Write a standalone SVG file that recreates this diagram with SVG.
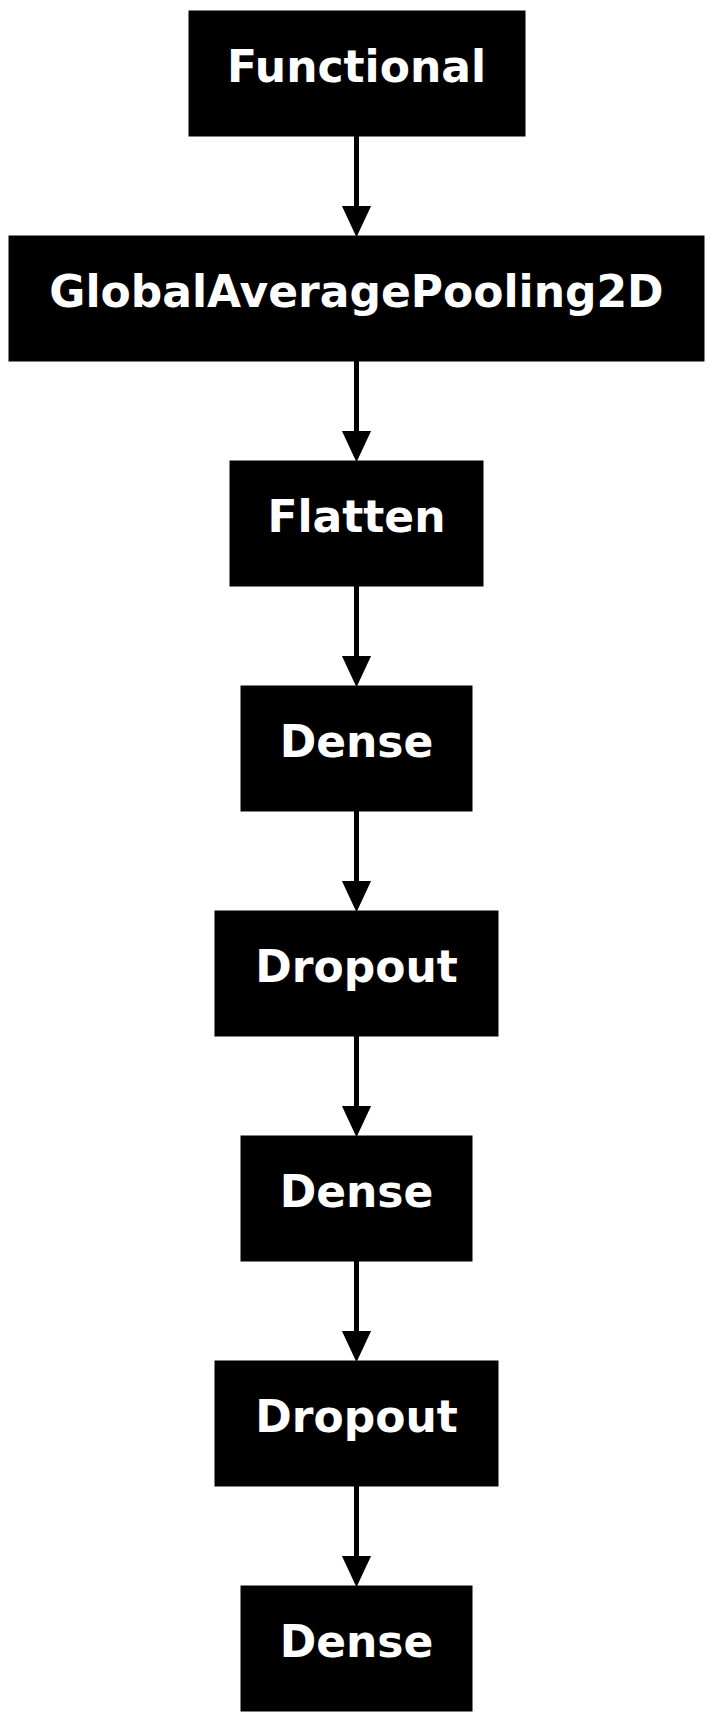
<svg xmlns="http://www.w3.org/2000/svg" width="714" height="1722" viewBox="0 0 714 1722">
<style>
.box{fill:#000;stroke:#000;stroke-width:1}
.lbl{fill:#fff;font-family:"DejaVu Sans",sans-serif;font-weight:bold;font-size:44px;text-anchor:middle}
.edge{stroke:#000;stroke-width:5;fill:none}
.head{fill:#000;stroke:#000;stroke-width:2}
</style>
<rect width="714" height="1722" fill="#fff"/>
<g id="connectors">
<line class="edge" x1="356.5" y1="136" x2="356.5" y2="208"/>
<polygon class="head" points="343.5,207 369.5,207 356.5,235"/>
<line class="edge" x1="356.5" y1="361" x2="356.5" y2="433"/>
<polygon class="head" points="343.5,432 369.5,432 356.5,460"/>
<line class="edge" x1="356.5" y1="586" x2="356.5" y2="658"/>
<polygon class="head" points="343.5,657 369.5,657 356.5,685"/>
<line class="edge" x1="356.5" y1="811" x2="356.5" y2="883"/>
<polygon class="head" points="343.5,882 369.5,882 356.5,910"/>
<line class="edge" x1="356.5" y1="1036" x2="356.5" y2="1108"/>
<polygon class="head" points="343.5,1107 369.5,1107 356.5,1135"/>
<line class="edge" x1="356.5" y1="1261" x2="356.5" y2="1333"/>
<polygon class="head" points="343.5,1332 369.5,1332 356.5,1360"/>
<line class="edge" x1="356.5" y1="1486" x2="356.5" y2="1558"/>
<polygon class="head" points="343.5,1557 369.5,1557 356.5,1585"/>
</g>
<g id="node-functional">
<rect class="box" x="189" y="11" width="336" height="125"/>
<text class="lbl" x="356.5" y="82">Functional</text>
</g>
<g id="node-gap">
<rect class="box" x="9" y="236" width="695" height="125"/>
<text class="lbl" x="356.5" y="307">GlobalAveragePooling2D</text>
</g>
<g id="node-flatten">
<rect class="box" x="230" y="461" width="253" height="125"/>
<text class="lbl" x="356.5" y="532">Flatten</text>
</g>
<g id="node-dense1">
<rect class="box" x="241" y="686" width="231" height="125"/>
<text class="lbl" x="356.5" y="757">Dense</text>
</g>
<g id="node-dropout1">
<rect class="box" x="215" y="911" width="283" height="125"/>
<text class="lbl" x="356.5" y="982">Dropout</text>
</g>
<g id="node-dense2">
<rect class="box" x="241" y="1136" width="231" height="125"/>
<text class="lbl" x="356.5" y="1207">Dense</text>
</g>
<g id="node-dropout2">
<rect class="box" x="215" y="1361" width="283" height="125"/>
<text class="lbl" x="356.5" y="1432">Dropout</text>
</g>
<g id="node-dense3">
<rect class="box" x="241" y="1586" width="231" height="125"/>
<text class="lbl" x="356.5" y="1657">Dense</text>
</g>
</svg>
